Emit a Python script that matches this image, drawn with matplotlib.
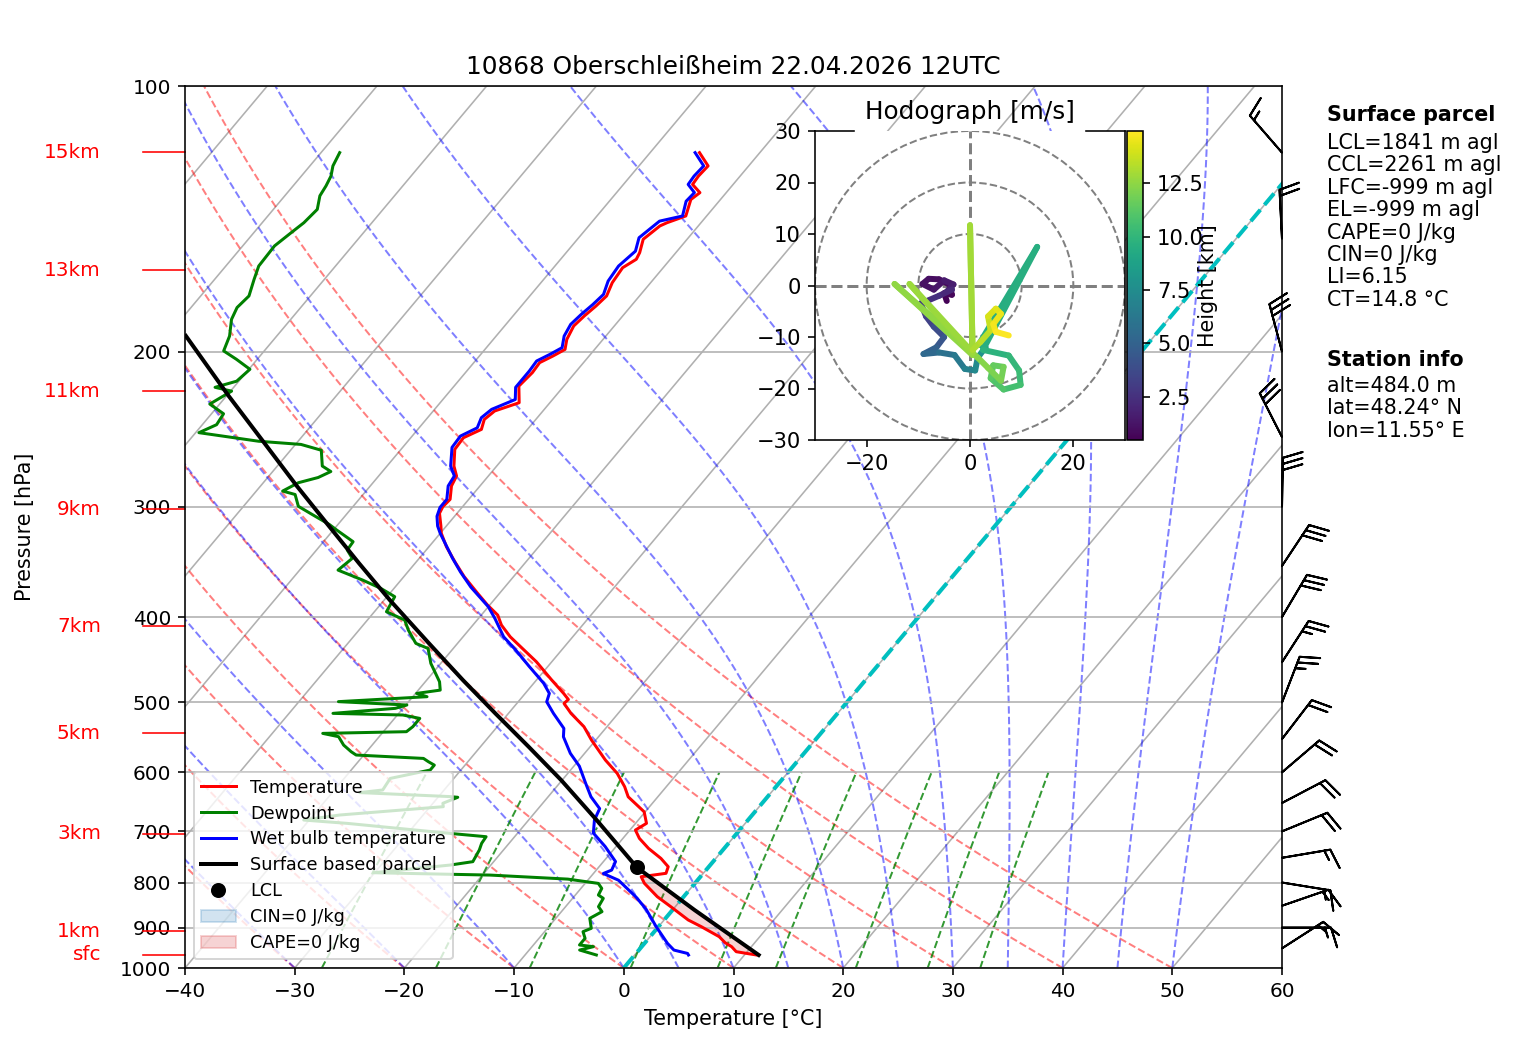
import numpy as np
import matplotlib
matplotlib.use("Agg")
import matplotlib.pyplot as plt
import matplotlib.transforms as mtransforms
from matplotlib.collections import LineCollection
from matplotlib.lines import Line2D
from matplotlib.patches import Patch, Circle
from matplotlib.ticker import NullLocator

# --- sounding ------------------------------------------------------------
p_temp = [119.0, 123.2, 126.5, 129.3, 132.1, 134.5, 140.4, 142.9, 144.1, 149.2,
          154.5, 157.2, 160.7, 167.1, 173.0, 177.6, 182.3, 187.1, 193.8, 198.9,
          202.4, 205.9, 211.3, 218.9, 228.6, 233.6, 238.8, 245.1, 250.5, 258.2,
          269.7, 276.8, 284.1, 294.2, 299.9, 305.1, 315.4, 321.5, 333.0, 346.2,
          360.0, 376.0, 387.7, 398.0, 408.5, 421.2, 434.2, 449.6, 471.6, 488.3,
          496.1, 501.2, 514.4, 532.6, 551.4, 581.0, 601.6, 622.9, 639.6, 665.1,
          685.5, 697.6, 712.9, 731.8, 751.2, 767.7, 781.0, 788.0, 801.7, 830.2,
          852.2, 882.2, 897.7, 921.5, 936.1, 945.9, 958.3, 962.3, 966.6]
temp = [-55.5, -53.7, -53.8, -53.7, -52.4, -52.7, -51.9, -53.1, -53.5, -54.0,
        -53.3, -53.1, -53.7, -53.5, -53.0, -53.2, -53.5, -53.7, -53.3, -52.7,
        -53.3, -54.0, -53.9, -54.1, -52.8, -54.4, -54.7, -54.2, -55.2, -55.1,
        -53.9, -52.9, -52.6, -51.7, -51.8, -51.6, -50.5, -49.9, -48.4, -46.5,
        -44.5, -42.0, -40.2, -38.5, -37.4, -35.7, -33.7, -31.4, -28.6, -26.5,
        -25.6, -25.7, -24.3, -22.1, -20.4, -17.6, -15.5, -13.8, -12.7, -10.1,
        -9.0, -9.5, -8.5, -6.9, -5.0, -3.7, -3.4, -5.4, -4.6, -2.4,
        -0.4, 2.2, 3.9, 6.3, 7.3, 8.2, 9.0, 10.0, 11.1]

p_wb = [119.0, 123.2, 126.5, 129.3, 132.1, 135.1, 140.4, 142.3, 148.6, 153.9,
        160.0, 166.4, 172.3, 176.9, 181.5, 186.3, 192.1, 198.0, 201.5, 205.0,
        210.4, 219.6, 226.7, 232.6, 237.7, 244.1, 249.4, 256.9, 269.7, 276.8,
        284.1, 294.2, 300.5, 307.5, 315.4, 321.5, 342.9, 355.6, 369.9, 389.4,
        401.5, 421.2, 435.9, 455.1, 475.5, 488.3, 499.1, 514.4, 535.0, 546.8,
        571.0, 590.4, 617.6, 639.5, 659.6, 679.6, 703.1, 728.2, 757.4, 774.5,
        781.4, 795.2, 831.1, 857.2, 897.9, 937.8, 954.3, 962.7, 966.6]
wetbulb = [-55.9, -54.1, -54.2, -54.1, -52.9, -53.0, -52.2, -53.9, -54.5, -53.8,
           -54.2, -54.0, -53.4, -53.6, -53.9, -54.1, -53.8, -53.1, -53.7, -54.4,
           -54.3, -54.3, -53.4, -54.8, -55.1, -54.7, -55.6, -55.5, -54.2, -53.1,
           -52.9, -52.0, -52.0, -51.6, -50.8, -50.0, -47.0, -45.2, -43.1, -40.0,
           -38.5, -36.3, -34.2, -31.7, -29.1, -27.8, -27.4, -25.9, -23.8, -23.2,
           -21.3, -19.5, -17.6, -16.1, -14.4, -14.0, -13.1, -11.0, -8.9, -8.6,
           -9.1, -7.2, -4.3, -2.5, -0.2, 2.1, 3.2, 4.7, 4.9]

p_dew = [119.0, 123.2, 126.5, 129.8, 133.2, 138.0, 142.9, 146.7, 151.8, 160.0,
         165.7, 173.0, 178.3, 183.9, 192.1, 199.7, 204.1, 209.5, 216.1, 219.6,
         221.8, 229.4, 235.3, 242.1, 247.2, 252.8, 254.9, 258.8, 269.7, 273.6,
         277.9, 281.7, 287.9, 290.5, 299.6, 307.5, 314.1, 318.7, 328.6, 335.8,
         343.2, 353.9, 363.2, 371.2, 379.3, 394.5, 403.2, 413.9, 428.5, 434.2,
         451.5, 473.7, 484.1, 488.3, 492.5, 498.9, 503.3, 507.7, 514.4, 516.6,
         521.2, 532.6, 539.6, 542.0, 546.7, 558.8, 568.6, 573.5, 578.6, 583.6,
         588.8, 596.4, 609.6, 628.3, 632.6, 639.2, 640.4, 650.5, 656.3, 670.7,
         679.6, 685.5, 703.6, 709.8, 722.2, 734.9, 757.6, 764.3, 779.8, 784.6,
         792.9, 801.8, 812.4, 826.6, 833.7, 852.1, 863.2, 878.4, 901.6, 909.5,
         925.5, 941.7, 945.8, 954.2, 966.6]
dewpt = [-88.3, -87.9, -87.3, -87.0, -86.8, -86.0, -86.2, -86.6, -87.1, -87.0,
         -86.4, -85.6, -85.8, -85.4, -84.3, -83.7, -81.9, -79.9, -80.2, -81.7,
         -79.9, -80.9, -78.9, -78.7, -79.7, -73.6, -69.5, -67.2, -65.9, -64.7,
         -65.4, -66.8, -67.6, -66.2, -65.0, -62.7, -60.8, -59.7, -57.3, -57.2,
         -56.1, -56.5, -53.5, -51.2, -49.3, -48.9, -46.6, -45.5, -43.8, -42.3,
         -40.9, -38.7, -38.0, -39.9, -38.7, -46.4, -39.9, -40.7, -46.0, -39.5,
         -37.7, -37.7, -37.9, -45.4, -43.7, -42.6, -41.4, -40.7, -34.3, -33.6,
         -32.8, -32.8, -35.8, -35.6, -37.5, -29.0, -28.2, -29.1, -28.8, -37.6,
         -40.5, -36.3, -26.2, -22.6, -22.5, -22.2, -21.9, -23.7, -30.1, -19.3,
         -11.9, -8.8, -8.1, -7.9, -7.2, -7.0, -6.3, -6.9, -6.0, -6.5,
         -5.8, -5.8, -4.4, -5.4, -3.5]

p_parcel = [966.6, 859.4, 769.1, 679.6, 612.2, 561.3, 514.4, 471.6, 428.5,
            382.6, 347.7, 316.0, 294.7, 284.1, 256.0, 224.6, 192.0]
t_parcel = [11.3, 2.0, -6.5, -13.8, -20.1, -25.6, -31.2, -36.7, -42.6,
            -49.5, -55.1, -60.6, -64.6, -66.7, -72.5, -79.8, -88.3]
lcl_p, lcl_t = 769.1, -6.5

# wind barbs (kt)
p_barb = [119, 149, 200, 250, 300, 350, 400, 450, 500,
          550, 600, 650, 700, 750, 800, 850, 900, 950]
u_barb = [9.8, 1.0, 7.7, 13.6, -0.5, -16.6, -15.3, -13.6, -9.0,
          -12.2, -15.2, -17.7, -18.5, -14.8, -14.8, -14.2, -15.0, -12.6]
v_barb = [-11.3, -20.0, -29.0, -26.7, -30.0, -25.0, -25.8, -21.0, -23.3,
          -15.9, -13.0, -9.3, -7.6, -2.5, 2.4, -4.9, 0.0, -8.1]

# hodograph (m/s) with height (km)
hodo_h = [0.48, 0.6, 0.7, 0.8, 0.9, 1.0, 1.1, 1.2, 1.4, 1.6, 1.8, 2.0, 2.3, 2.7,
          3.1, 3.6, 4.1, 4.6, 5.1, 5.6, 6.1, 6.6, 7.1, 7.6, 8.2, 8.8, 9.4, 9.5,
          9.6, 9.9, 10.2, 10.5, 10.8, 11.1, 11.4, 11.7, 12.0, 12.2, 12.4, 12.5,
          12.6, 12.7, 12.8, 12.9, 13.0, 13.3, 13.6, 13.9, 14.2, 14.4, 14.6, 14.8,
          14.95]
hodo_u = [-4.5, -5.0, -3.5, -4.0, -6.0, -8.0, -9.2, -7.0, -5.0, -3.2, -4.5, -3.5,
          -6.0, -9.5, -8.5, -7.0, -5.0, -6.5, -9.0, -6.0, -3.0, -1.0, 1.0, 1.5,
          3.0, 2.0, 1.8, 13.0, 2.5, 7.5, 9.5, 9.8, 6.5, 4.0, 4.5, 6.5, 6.0, 3.5,
          1.5, -14.6, 0.5, -11.7, 0.5, 0.0, 0.5, 2.0, 4.0, 3.5, 5.0, 6.0, 4.5,
          5.0, 7.5]
hodo_v = [-3.0, -1.5, -1.8, 0.2, 1.2, 1.3, 0.3, -0.8, 1.0, 0.2, -1.2, -0.8,
          -2.0, -3.5, -6.0, -8.0, -10.0, -12.0, -13.3, -13.0, -13.5, -16.2,
          -16.5, -14.0, -12.0, -11.5, -11.3, 7.5, -12.5, -13.6, -16.5, -19.3,
          -20.2, -18.0, -15.5, -15.8, -18.5, -16.0, -14.0, 0.3, -13.5, 0.3,
          -13.0, 11.7, -12.5, -11.0, -8.7, -6.0, -4.5, -5.5, -7.5, -9.0, -9.7]

# height markers on the left
hgt_p = [118.9, 161.7, 221.8, 302.0, 409.7, 541.5, 704.7, 908.0, 966.6]
hgt_lab = ["15km", "13km", "11km", "9km", "7km", "5km", "3km", "1km", "sfc"]

dry_t0 = np.arange(-40, 51, 10)
moist_t0 = [-30, -20, -10, 0, 5, 10, 15, 20, 25, 30, 35, 40, 45, 50]
mix_w = [0.0004, 0.001, 0.002, 0.004, 0.007, 0.01, 0.016, 0.024, 0.032]

SKEW = 67.5  # degC of shift per pressure decade


def sk(t, p):
    return np.asarray(t, float) + SKEW * np.log10(1000.0 / np.asarray(p, float))


def moist_curve(t0, plev):
    rd, cp, lv, eps = 287.04, 1005.7, 2.501e6, 0.622

    def rate(p, t):
        es = 6.112 * np.exp(17.67 * (t - 273.15) / (t - 29.65))
        rs = eps * es / (p - es)
        return (rd * t + lv * rs) / (cp + lv * lv * rs * eps / (rd * t * t)) / p

    t = t0 + 273.15
    out = [t]
    for p1, p2 in zip(plev[:-1], plev[1:]):
        h = p2 - p1
        k1 = rate(p1, t)
        k2 = rate(p1 + h / 2, t + h / 2 * k1)
        k3 = rate(p1 + h / 2, t + h / 2 * k2)
        k4 = rate(p2, t + h * k3)
        t = t + h / 6 * (k1 + 2 * k2 + 2 * k3 + k4)
        out.append(t)
    return np.array(out) - 273.15


plt.rcParams["font.size"] = 10.3

W, H = 1517, 1054
fig = plt.figure(figsize=(W / 144, H / 144), dpi=144)
ax = fig.add_axes([185 / W, 86 / H, 1097 / W, 882 / H])
ax.set_yscale("log")
ax.set_ylim(1000, 100)
ax.set_xlim(-40, 60)
yt = np.arange(100, 1001, 100)
ax.set_yticks(yt, labels=[str(v) for v in yt])
ax.yaxis.set_minor_locator(NullLocator())
ax.set_xticks(np.arange(-40, 61, 10))
ax.tick_params(labelsize=10)
ax.yaxis.grid(True)
ax.set_xlabel("Temperature [°C]")
ax.set_ylabel("Pressure [hPa]")
ax.yaxis.set_label_coords(-0.137, 0.5)
ax.set_title("10868 Oberschleißheim 22.04.2026 12UTC", fontsize=12.4)

# isotherms
for t in range(-120, 61, 10):
    ax.plot(sk([t, t], [1000, 100]), [1000, 100], color="#b0b0b0", lw=0.8, zorder=1)

plev = np.logspace(3, 2, 120)
for t0 in dry_t0:
    tt = (t0 + 273.15) * (plev / 1000.0) ** 0.2857 - 273.15
    ax.plot(sk(tt, plev), plev, "r--", lw=1, alpha=0.5, zorder=1)
for t0 in moist_t0:
    tt = moist_curve(t0, plev)
    ax.plot(sk(tt, plev), plev, "b--", lw=1, alpha=0.5, zorder=1)
pmix = np.linspace(1000, 600, 40)
for w in mix_w:
    e = pmix * w / (0.622 + w)
    a = np.log(e / 6.112)
    td = 243.5 * a / (17.67 - a)
    ax.plot(sk(td, pmix), pmix, "g--", lw=1, alpha=0.8, zorder=1)

ax.plot(sk([0, 0], [1000, 100]), [1000, 100], color="c", ls="--", lw=2, zorder=1.5)

ax.plot(sk(temp, p_temp), p_temp, "r", lw=1.5)
ax.plot(sk(dewpt, p_dew), p_dew, "g", lw=1.5)
ax.plot(sk(wetbulb, p_wb), p_wb, "b", lw=1.5)
ax.plot(sk(t_parcel, p_parcel), p_parcel, "k", lw=2)
ax.plot(sk(lcl_t, lcl_p), lcl_p, "ko", ms=6.5, zorder=3)

# CAPE shading between parcel and environment
pt = np.array(p_temp)
prof = np.interp(np.log(pt), np.log(p_parcel[::-1]), t_parcel[::-1])
ax.fill_betweenx(pt, sk(temp, pt), sk(prof, pt), where=prof > np.array(temp),
                 interpolate=True, color="tab:red", alpha=0.2, lw=0)

handles = [Line2D([], [], color="r", lw=1.5), Line2D([], [], color="g", lw=1.5),
           Line2D([], [], color="b", lw=1.5), Line2D([], [], color="k", lw=2),
           Line2D([], [], color="k", marker="o", ls="none", ms=6.5),
           Patch(color="tab:blue", alpha=0.2), Patch(color="tab:red", alpha=0.2)]
labels = ["Temperature", "Dewpoint", "Wet bulb temperature", "Surface based parcel",
          "LCL", "CIN=0 J/kg", "CAPE=0 J/kg"]
ax.legend(handles, labels, loc="lower left", fontsize=8.8, labelspacing=0.45)

# height ticks on the left
trans = mtransforms.blended_transform_factory(ax.transAxes, ax.transData)
for p, lab in zip(hgt_p, hgt_lab):
    ax.plot([-0.0383, 0], [p, p], color="r", lw=0.8, transform=trans, clip_on=False)
    ax.text(-0.0766, p, lab, color="r", ha="right", va="center", fontsize=10,
            transform=trans)

ax.barbs(np.ones(len(p_barb)), p_barb, u_barb, v_barb, length=7,
         transform=ax.get_yaxis_transform(), clip_on=False, zorder=4)

# hodograph inset
axh = fig.add_axes([815 / W, (H - 440) / H, 310 / W, 309 / H])
axh.set_xlim(-30, 30)
axh.set_ylim(-30, 30)
for r in (10, 20, 30):
    axh.add_patch(Circle((0, 0), r, fill=False, color="grey", ls="--", lw=1))
axh.axhline(0, color="grey", ls="--", lw=1.5)
axh.axvline(0, color="grey", ls="--", lw=1.5)
pts = np.array([hodo_u, hodo_v]).T.reshape(-1, 1, 2)
segs = np.concatenate([pts[:-1], pts[1:]], axis=1)
hh = np.array(hodo_h)
lc = LineCollection(segs, cmap="viridis", norm=plt.Normalize(hh.min(), hh.max()),
                    lw=3, capstyle="round")
lc.set_array((hh[:-1] + hh[1:]) / 2)
axh.add_collection(lc)
axh.set_xticks([-20, 0, 20])
axh.set_yticks(np.arange(-30, 31, 10))
axh.tick_params(labelsize=10.5)
axh.set_title("Hodograph [m/s]", fontsize=12.4)
axh.spines["top"].set_visible(False)
axh.plot([-30, -22.5], [30, 30], color="k", lw=0.8, clip_on=False)
axh.plot([22.5, 30], [30, 30], color="k", lw=0.8, clip_on=False)

cax = fig.add_axes([1127 / W, (H - 440) / H, 16 / W, 309 / H])
cb = fig.colorbar(lc, cax=cax)
cb.ax.tick_params(labelsize=10.5)
cb.set_label("Height [km]", labelpad=-3)

# parcel / station info
x0 = 1327 / W
fig.text(x0, 1 - 121 / H, "Surface parcel", fontweight="bold", va="baseline")
fig.text(x0, 1 - 133.1 / H, "LCL=1841 m agl\nCCL=2261 m agl\nLFC=-999 m agl\n"
         "EL=-999 m agl\nCAPE=0 J/kg\nCIN=0 J/kg\nLI=6.15\nCT=14.8 °C", va="top",
         linespacing=1.15)
fig.text(x0, 1 - 365.7 / H, "Station info", fontweight="bold", va="baseline")
fig.text(x0, 1 - 375.8 / H, "alt=484.0 m\nlat=48.24° N\nlon=11.55° E", va="top",
         linespacing=1.15)

fig.savefig("out.png", dpi=144)
